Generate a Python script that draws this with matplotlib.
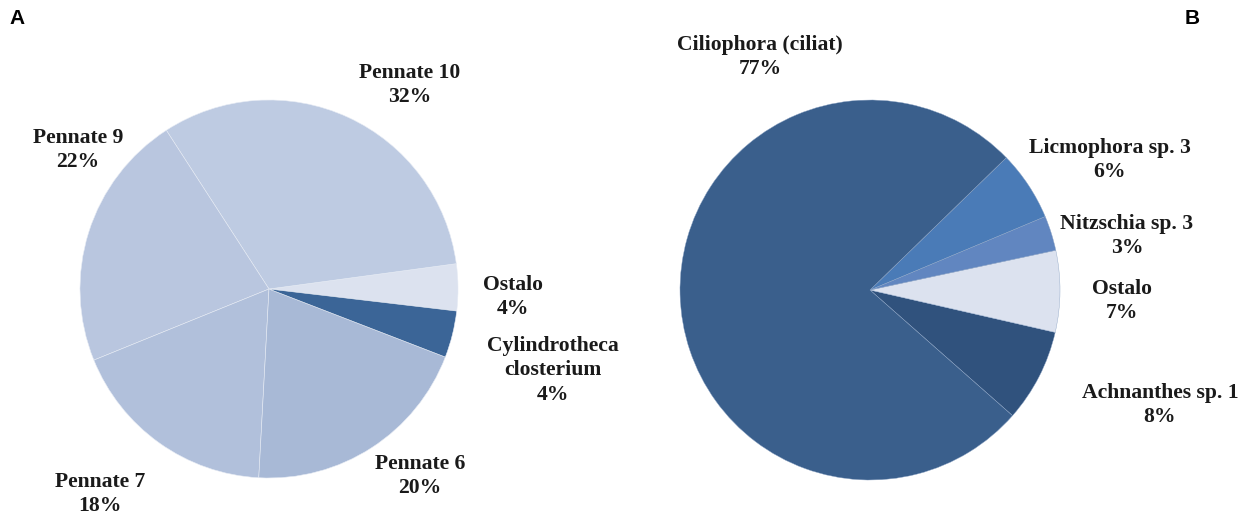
import matplotlib
matplotlib.use("Agg")
import matplotlib.pyplot as plt

# Panel A data (counterclockwise order starting from Ostalo)
labels_a = ["Ostalo", "Pennate 10", "Pennate 9", "Pennate 7", "Pennate 6", "Cylindrotheca\nclosterium"]
values_a = [4, 32, 22, 18, 20, 4]
colors_a = ["#DCE2EF", "#BECBE2", "#B9C6DF", "#B1C0DB", "#A8B9D6", "#3B6597"]

# Panel B data (counterclockwise order starting from Achnanthes)
labels_b = ["Achnanthes sp. 1", "Ostalo", "Nitzschia sp. 3", "Licmophora sp. 3", "Ciliophora (ciliat)"]
values_b = [8, 7, 3, 6, 77]
colors_b = ["#30527D", "#DCE2EF", "#6186C0", "#4A7BB7", "#3A5F8C"]

W, H = 1252, 518
fig = plt.figure(figsize=(W / 100, H / 100), dpi=100)
fig.patch.set_facecolor("white")

def px_axes(x0, y0, x1, y1):
    return fig.add_axes([x0 / W, 1 - y1 / H, (x1 - x0) / W, (y1 - y0) / H])

serif = ["Liberation Serif", "DejaVu Serif"]
sans = ["Liberation Sans", "DejaVu Sans"]

# Panel A
ax_a = px_axes(80, 100, 458, 478)
ax_a.pie(values_a, colors=colors_a, startangle=-6.7, counterclock=True,
         wedgeprops=dict(edgecolor="#E6EBF4", linewidth=0.4))
ax_a.set_xlim(-1, 1)
ax_a.set_ylim(-1, 1)

# Panel B
ax_b = px_axes(680, 100, 1060, 480)
ax_b.pie(values_b, colors=colors_b, startangle=-41.4, counterclock=True,
         wedgeprops=dict(edgecolor="#8FA6C6", linewidth=0.3))
ax_b.set_xlim(-1, 1)
ax_b.set_ylim(-1, 1)

# Label positions in pixels (text centres)
pos_a = {
    "Ostalo": (513, 297),
    "Pennate 10": (410, 85),
    "Pennate 9": (78, 150),
    "Pennate 7": (100, 494),
    "Pennate 6": (420, 476),
    "Cylindrotheca\nclosterium": (553, 370),
}
pos_b = {
    "Achnanthes sp. 1": (1160, 405),
    "Ostalo": (1122, 301),
    "Nitzschia sp. 3": (1127, 236),
    "Licmophora sp. 3": (1110, 160),
    "Ciliophora (ciliat)": (760, 57),
}

def put(lbl, val, pos):
    x, y = pos[lbl]
    fig.text(x / W, 1 - y / H, f"{lbl}\n{val}%", ha="center", va="center",
             fontsize=15.6, fontweight="bold", family=serif, linespacing=1.3,
             color="#1a1a1a")

for l, v in zip(labels_a, values_a):
    put(l, v, pos_a)
for l, v in zip(labels_b, values_b):
    put(l, v, pos_b)

fig.text(17 / W, 1 - 18 / H, "A", ha="center", va="center", fontsize=15,
         fontweight="bold", family=sans)
fig.text(1192 / W, 1 - 18 / H, "B", ha="center", va="center", fontsize=15,
         fontweight="bold", family=sans)

fig.savefig("out.png", dpi=100, facecolor="white")
